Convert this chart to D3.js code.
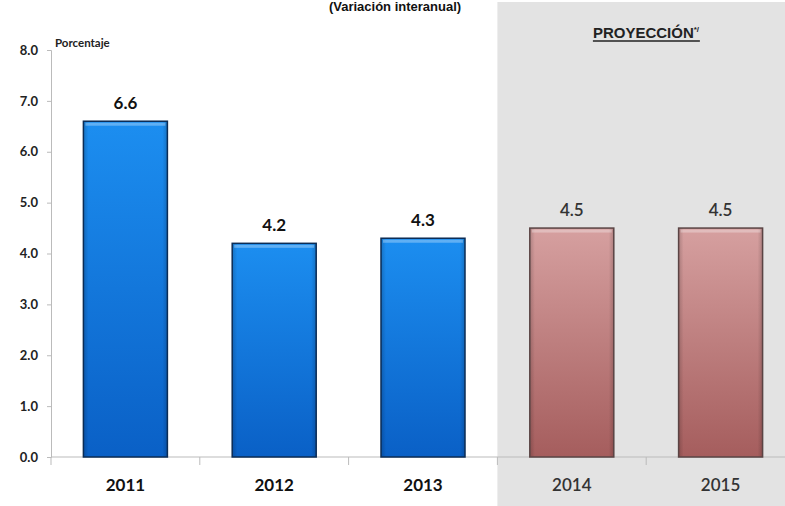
<!DOCTYPE html>
<html>
<head>
<meta charset="utf-8">
<script src="https://cdn.jsdelivr.net/npm/d3@7"></script>
<style>
  body { margin: 0; background: #fff; }
  svg { display: block; }
</style>
</head>
<body>
<svg id="chart" width="785" height="506"></svg>
<script>
// datos
let years = ["2011", "2012", "2013", "2014", "2015"]
let values = [6.6, 4.2, 4.3, 4.5, 4.5]
let projected = ["2014", "2015"]
let yTicks = [0, 1, 2, 3, 4, 5, 6, 7, 8]

let svg = d3.select("#chart")
let x0 = 51, x1 = 795, yBase = 457, yTop = 50

let xScale = d3.scaleBand().domain(years).range([x0, x1]).paddingInner(0).paddingOuter(0)
let yScale = d3.scaleLinear().domain([0, 8]).range([yBase, yTop])

let defs = svg.append("defs")
let gBlue = defs.append("linearGradient").attr("id", "gBlue").attr("x1", 0).attr("y1", 0).attr("x2", 0).attr("y2", 1)
gBlue.append("stop").attr("offset", "0%").attr("stop-color", "#1c8ef0")
gBlue.append("stop").attr("offset", "100%").attr("stop-color", "#0a60c6")
let gPink = defs.append("linearGradient").attr("id", "gPink").attr("x1", 0).attr("y1", 0).attr("x2", 0).attr("y2", 1)
gPink.append("stop").attr("offset", "0%").attr("stop-color", "#d6a0a0")
gPink.append("stop").attr("offset", "100%").attr("stop-color", "#a55d5d")
// sombra lateral tipo bisel
let gSide = defs.append("linearGradient").attr("id", "gSide").attr("x1", 0).attr("y1", 0).attr("x2", 1).attr("y2", 0)
gSide.append("stop").attr("offset", "0%").attr("stop-color", "#000").attr("stop-opacity", 0.18)
gSide.append("stop").attr("offset", "6%").attr("stop-color", "#000").attr("stop-opacity", 0)
gSide.append("stop").attr("offset", "94%").attr("stop-color", "#000").attr("stop-opacity", 0)
gSide.append("stop").attr("offset", "100%").attr("stop-color", "#000").attr("stop-opacity", 0.18)

// zona de proyeccion
let projStart = xScale(projected[0])
svg.append("rect")
  .attr("x", projStart).attr("y", 2)
  .attr("width", 785 - projStart).attr("height", 504)
  .attr("fill", "#e3e3e3")

// titulo (cortado arriba en el original)
svg.append("text")
  .attr("x", 395).attr("y", 11)
  .attr("text-anchor", "middle")
  .style("font", "bold 13px 'Liberation Sans', Arial, sans-serif")
  .attr("fill", "#111")
  .text("(Variación interanual)")

let proj = svg.append("text")
  .attr("x", 646).attr("y", 38)
  .attr("text-anchor", "middle")
  .style("font", "bold 15px 'Liberation Sans Narrow', 'Liberation Sans', Arial, sans-serif")
  .attr("fill", "#222")
proj.append("tspan").text("PROYECCIÓN")
proj.append("tspan").attr("dy", -6).style("font-size", "8px").text("*/")
let pb = proj.node().getBBox()
svg.append("line")
  .attr("x1", pb.x).attr("x2", pb.x + pb.width).attr("y1", 41).attr("y2", 41)
  .attr("stroke", "#222").attr("stroke-width", 1.3)

svg.append("text")
  .attr("x", 55).attr("y", 47)
  .style("font", "bold 11.5px Lato, 'Open Sans', sans-serif")
  .attr("fill", "#222")
  .text("Porcentaje")

// ejes
let yAxis = d3.axisLeft(yScale).tickValues(yTicks).tickFormat(d3.format(".1f")).tickSize(4).tickPadding(9)
let yAxisGroup = svg.append("g").attr("transform", `translate(${x0},0)`).call(yAxis)
yAxisGroup.select(".domain").attr("stroke", "#bbb")
yAxisGroup.selectAll(".tick line").attr("stroke", "#bbb")
yAxisGroup.selectAll(".tick text")
  .style("font", "bold 13px Lato, 'Open Sans', sans-serif")
  .attr("fill", "#222")

svg.append("line")
  .attr("x1", x0).attr("x2", 785).attr("y1", yBase).attr("y2", yBase)
  .attr("stroke", "#bbb")
svg.selectAll("line.xtick")
  .data(years)
  .enter()
  .append("line")
  .attr("class", "xtick")
  .attr("x1", d => xScale(d)).attr("x2", d => xScale(d))
  .attr("y1", yBase).attr("y2", yBase + 8)
  .attr("stroke", "#bbb")

svg.selectAll("text.year")
  .data(years)
  .enter()
  .append("text")
  .attr("class", "year")
  .attr("x", d => xScale(d) + xScale.bandwidth() / 2)
  .attr("y", 491)
  .attr("text-anchor", "middle")
  .style("font", d => (projected.includes(d) ? "600" : "bold") + " 17px Lato, 'Open Sans', sans-serif")
  .attr("fill", d => projected.includes(d) ? "#333" : "#111")
  .text(d => d)

// barras
let barW = 84
let data = years.map((y, i) => ({ year: y, value: values[i], proj: projected.includes(y) }))

let bars = svg.selectAll("g.bar")
  .data(data)
  .enter()
  .append("g")
  .attr("class", "bar")

bars.append("rect")
  .attr("x", d => xScale(d.year) + (xScale.bandwidth() - barW) / 2)
  .attr("y", d => yScale(d.value))
  .attr("width", barW)
  .attr("height", d => yBase - yScale(d.value))
  .attr("fill", d => d.proj ? "url(#gPink)" : "url(#gBlue)")

bars.append("rect")
  .attr("x", d => xScale(d.year) + (xScale.bandwidth() - barW) / 2)
  .attr("y", d => yScale(d.value))
  .attr("width", barW)
  .attr("height", d => yBase - yScale(d.value))
  .attr("fill", "url(#gSide)")
  .attr("stroke", d => d.proj ? "#5a4444" : "#0b2c55")
  .attr("stroke-width", 1.5)

// brillo superior
bars.append("rect")
  .attr("x", d => xScale(d.year) + (xScale.bandwidth() - barW) / 2 + 2)
  .attr("y", d => yScale(d.value) + 1.5)
  .attr("width", barW - 4)
  .attr("height", 3)
  .attr("fill", "#fff")
  .attr("opacity", 0.3)

bars.append("text")
  .attr("x", d => xScale(d.year) + xScale.bandwidth() / 2)
  .attr("y", d => yScale(d.value) - 12)
  .attr("text-anchor", "middle")
  .style("font", d => (d.proj ? "600" : "bold") + " 17px Lato, 'Open Sans', sans-serif")
  .attr("fill", d => d.proj ? "#333" : "#111")
  .text(d => d3.format(".1f")(d.value))
</script>
</body>
</html>
